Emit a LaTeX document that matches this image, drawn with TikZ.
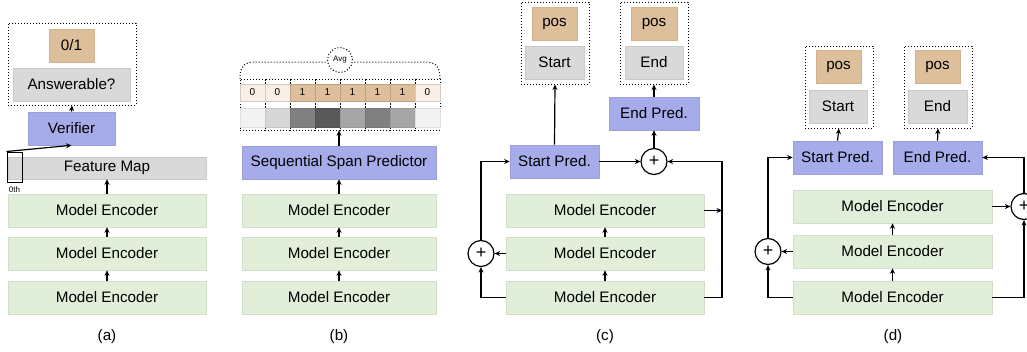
\documentclass[tikz,border=0pt]{standalone}
\usepackage{fontspec}
\setmainfont{Liberation Sans}
\usetikzlibrary{arrows.meta,calc}
\definecolor{encg}{HTML}{E0EEDA}
\definecolor{encd}{HTML}{CFDFC9}
\definecolor{predc}{HTML}{A6ABE9}
\definecolor{predd}{HTML}{9BA0DC}
\definecolor{grayc}{HTML}{D9D9D9}
\definecolor{grayd}{HTML}{C9C9C9}
\definecolor{tanc}{HTML}{DEBF9C}
\definecolor{tand}{HTML}{D2B390}
\definecolor{cream}{HTML}{F9EFE6}
\definecolor{gA}{HTML}{F2F2F2}
\definecolor{gB}{HTML}{D6D6D6}
\definecolor{gC}{HTML}{808080}
\definecolor{gD}{HTML}{595959}
\definecolor{gE}{HTML}{A6A6A6}
\newcommand\mybox[7]{\node[#1, minimum width={#5-#3}, minimum height={#6-#4}] (#2) at ({(#3+#5)/2},{(#4+#6)/2}) {#7};}
\tikzset{
  box/.style={rectangle, inner sep=0pt, font=\fontsize{15.2}{17}\selectfont},
  enc/.style={box, fill=encg, draw=encd, line width=0.6pt},
  pred/.style={box, fill=predc, draw=predd, line width=0.6pt},
  grayb/.style={box, fill=grayc, draw=grayd, line width=0.6pt},
  tanb/.style={box, fill=tanc, draw=tand, line width=0.6pt},
  dotbox/.style={rectangle, inner sep=0pt, draw, dotted, line width=1pt},
  zerobox/.style={rectangle, inner sep=0pt, draw, line width=1pt},
  ghost/.style={rectangle, inner sep=0pt},
  arr/.style={-{Stealth[length=5.5pt,width=5pt]}, line width=1.2pt},
  plusc/.style={circle, draw, line width=1.2pt, minimum size=26pt, inner sep=0pt, font=\fontsize{18}{18}\selectfont},
  lab/.style={font=\fontsize{15.2}{17}\selectfont},
  tiny/.style={font=\fontsize{8}{9}\selectfont, inner sep=0pt},
}
\begin{document}
\begin{tikzpicture}[x=1pt,y=-1pt]
\useasboundingbox (0,0) rectangle (1027,351);
% ---------------- (a)
\mybox{dotbox}{aout}{8}{23}{136}{105}{}
\mybox{tanb}{a01}{49}{29}{94}{62}{0/1}
\mybox{grayb}{aans}{13}{68}{130}{101}{Answerable?}
\mybox{pred}{aver}{28}{112}{115}{145}{Verifier}
\mybox{grayb}{afm}{8}{157}{206}{179}{Feature Map}
\mybox{zerobox}{a0}{7}{152}{22}{182}{}
\node[tiny] (a0l) at (14.5,190) {0th};
\mybox{enc}{ae1}{8}{194}{206}{227}{Model Encoder}
\mybox{enc}{ae2}{8}{237}{206}{270}{Model Encoder}
\mybox{enc}{ae3}{8}{281}{206}{314}{Model Encoder}
\draw[arr] (ae3.north) -- (ae2.south);
\draw[arr] (ae2.north) -- (ae1.south);
\draw[arr] (ae1.north) -- (afm.south);
\draw[arr] (aver.north) -- (aout.south);
\draw[arr] (a0.north west) -- (aver.south);
\node[lab] (la) at (107,337) {(a)};
% ---------------- (b)
\node[circle, draw, dotted, line width=1pt, minimum size=25pt, inner sep=0pt, font=\fontsize{8}{9}\selectfont] (avg) at (340,60) {Avg};
\coordinate (bl) at (240,79);
\coordinate (br) at (440,79);
\draw[dotted, line width=1pt] (bl) .. controls (240,66) and (244,62) .. (256,62) -- (avg.west |- 0,62);
\draw[dotted, line width=1pt] (br) .. controls (440,66) and (436,62) .. (424,62) -- (avg.east |- 0,62);
\foreach \i/\v/\c/\g in {0/0/cream/gA,1/0/cream/gB,2/1/tanc/gC,3/1/tanc/gD,4/1/tanc/gE,5/1/tanc/gC,6/1/tanc/gE,7/0/cream/gA}{
  \pgfmathsetmacro\xa{240+25*\i}
  \mybox{dotbox}{cell\i}{\xa}{79}{\xa+25}{130}{}
  \mybox{box, fill=\c, draw=\c!85!black, line width=0.4pt, font=\fontsize{10}{12}\selectfont}{ct\i}{\xa+3.5}{84}{\xa+21.5}{101}{\v}
  \mybox{box, fill=\g, draw=\g!92!black, line width=0.4pt}{cg\i}{\xa+3.5}{108}{\xa+21.5}{127}{}
}
\mybox{ghost}{cells}{240}{79}{440}{130}{}
\mybox{pred}{bssp}{242}{146}{436}{179}{Sequential Span Predictor}
\mybox{enc}{be1}{242}{194}{436}{227}{Model Encoder}
\mybox{enc}{be2}{242}{237}{436}{270}{Model Encoder}
\mybox{enc}{be3}{242}{281}{436}{314}{Model Encoder}
\draw[arr] (be3.north) -- (be2.south);
\draw[arr] (be2.north) -- (be1.south);
\draw[arr] (be1.north) -- (bssp.south);
\draw[arr] (bssp.north) -- (bssp.north |- cells.south);
\node[lab] (lb) at (339,337) {(b)};
% ---------------- (c)
\mybox{dotbox}{cout1}{521}{2}{589}{84}{}
\mybox{tanb}{cpos1}{532}{7}{577}{40}{pos}
\mybox{grayb}{cst}{525}{46}{584}{79}{Start}
\mybox{dotbox}{cout2}{620}{2}{688}{84}{}
\mybox{tanb}{cpos2}{631}{7}{677}{40}{pos}
\mybox{grayb}{cen}{625}{46}{683}{79}{End}
\mybox{pred}{cendp}{609}{97}{699}{130}{End Pred.}
\mybox{pred}{cstp}{510}{145}{599}{178}{Start Pred.}
\node[plusc] (cplus) at (654,161.5) {+};
\mybox{enc}{ce1}{506}{194}{704}{227}{Model Encoder}
\mybox{enc}{ce2}{506}{237}{704}{270}{Model Encoder}
\mybox{enc}{ce3}{506}{281}{704}{314}{Model Encoder}
\node[plusc] (cplusl) at (481,253.5) {+};
\coordinate (crx) at (722,161.5);
\draw[arr] (ce3.north) -- (ce2.south);
\draw[arr] (ce2.north) -- (ce1.south);
\draw[arr] (cstp.north) -- (cout1.south);
\draw[arr] (cstp.east) -- (cplus.west);
\draw[arr] (cplus.north) -- (cendp.south);
\draw[arr] (cendp.north) -- (cout2.south);
\draw[arr] (ce3.east) -| (crx) -- (cplus.east);
\draw[arr] (ce1.east) -- (ce1.east -| crx);
\draw[arr] (ce2.west) -- (cplusl.east);
\draw[arr] (ce3.west) -| (cplusl.south);
\draw[arr] (cplusl.north) |- (cstp.west);
\node[lab] (lc) at (605,337) {(c)};
% ---------------- (d)
\mybox{dotbox}{dout1}{805}{46}{873}{128}{}
\mybox{tanb}{dpos1}{816}{50}{861}{83}{pos}
\mybox{grayb}{dst}{809}{90}{867}{123}{Start}
\mybox{dotbox}{dout2}{904}{46}{972}{128}{}
\mybox{tanb}{dpos2}{915}{50}{960}{83}{pos}
\mybox{grayb}{den}{908}{90}{967}{123}{End}
\mybox{pred}{dstp}{793}{141}{882}{174}{Start Pred.}
\mybox{pred}{dendp}{893}{141}{982}{174}{End Pred.}
\mybox{enc}{de1}{793}{190}{992}{223}{Model Encoder}
\mybox{enc}{de2}{793}{235}{992}{268}{Model Encoder}
\mybox{enc}{de3}{793}{281}{992}{314}{Model Encoder}
\node[plusc] (dplusl) at (768,251.5) {+};
\node[plusc] (dplusr) at (1024,206.5) {+};
\draw[arr] (de3.north) -- (de2.south);
\draw[arr] (de2.north) -- (de1.south);
\draw[arr] (dstp.north) -- (dout1.south);
\draw[arr] (dendp.north) -- (dout2.south);
\draw[arr] (de2.west) -- (dplusl.east);
\draw[arr] (de3.west) -| (dplusl.south);
\draw[arr] (dplusl.north) |- (dstp.west);
\draw[arr] (de1.east) -- (dplusr.west);
\draw[arr] (de3.east) -| (dplusr.south);
\draw[arr] (dplusr.north) |- (dendp.east);
\node[lab] (ld) at (893,337) {(d)};
\end{tikzpicture}
\end{document}
